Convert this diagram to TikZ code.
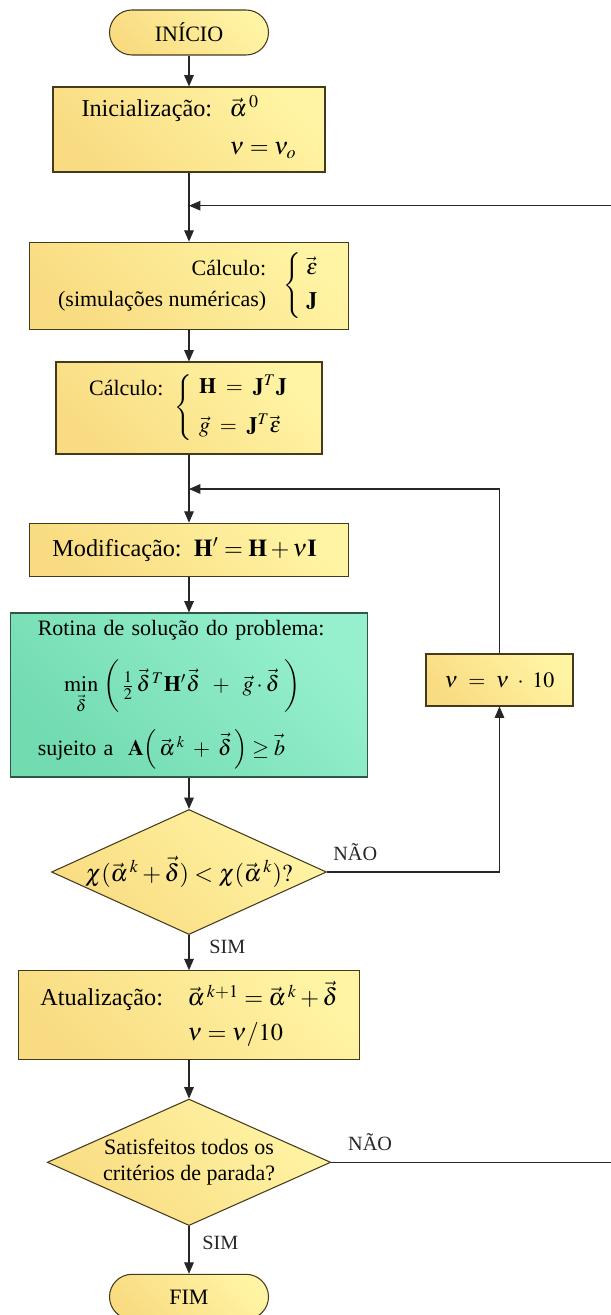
\documentclass[tikz,border=0pt]{standalone}
\usepackage{amsmath}
\usepackage{mathptmx}
\usepackage{fontspec}
\setmainfont{Liberation Serif}
\usetikzlibrary{arrows.meta}
\usetikzlibrary{shapes.geometric}

\definecolor{ylight}{RGB}{255,244,164}
\definecolor{ydark}{RGB}{249,220,130}
\definecolor{glight}{RGB}{150,240,206}
\definecolor{gdark}{RGB}{114,219,176}
\definecolor{yedge}{RGB}{70,58,28}
\definecolor{gedge}{RGB}{46,88,68}

\begin{document}
\begin{tikzpicture}[
    font=\fontsize{12.5}{15}\selectfont,
    flow/.style={line width=0.6pt, black!85, -{Triangle[length=6.5pt,width=5.5pt]}},
    yfill/.style={draw=yedge, line width=0.6pt, left color=ydark, right color=ylight, shading angle=135},
    box/.style={yfill, rectangle, inner sep=0pt},
    big/.style={font=\fontsize{13.8}{16.5}\selectfont},
    gbox/.style={draw=gedge, line width=0.6pt, left color=gdark, right color=glight, shading angle=135, rectangle},
    term/.style={yfill, rectangle, rounded corners=0.45cm, minimum width=3.18cm, minimum height=0.9cm},
    test/.style={yfill, diamond, inner sep=0pt, aspect=2.2},
    lbl/.style={font=\fontsize{11.5}{14}\selectfont}
]
    \useasboundingbox (0, 0) rectangle (12.22, -26.3);

    \node[term] (inicio) at (3.78, -0.65) {INÍCIO};
    \node[box, big, minimum width=5.44cm, minimum height=1.7cm] (init) at (3.78, -2.59)
        {\begin{tabular}{@{}r@{\hspace{10pt}}l@{}}Inicialização: & $\vec{\alpha}^{\,0}$\\[5pt] & $\nu = \nu_o$\end{tabular}};
    \node[box, minimum width=6.38cm, minimum height=1.74cm] (calc1) at (3.78, -5.714)
        {\begin{tabular}{@{}r@{}}Cálculo:\\[3pt](simulações numéricas)\end{tabular}\hspace{10pt}$\left\{\begin{array}{@{\;}l@{}}\vec{\varepsilon}\\[4pt]\mathbf{J}\end{array}\right.$};
    \node[box, minimum width=5.32cm, minimum height=1.84cm] (calc2) at (3.78, -8.16)
        {\raisebox{10.5pt}{Cálculo:}\hspace{6pt}$\left\{\begin{array}{@{\;\,}l@{}}\mathbf{H} \;=\; \mathbf{J}^T\mathbf{J}\\[7pt]\vec{g} \;=\; \mathbf{J}^T\vec{\varepsilon}\end{array}\right.$};
    \node[box, big, minimum width=6.38cm, minimum height=1.06cm] (modif) at (3.78, -10.994)
        {Modificação:\hspace{7pt}$\mathbf{H}' = \mathbf{H} + \nu\mathbf{I}$\hspace*{5pt}};
    \node[gbox, minimum height=3.28cm, inner xsep=0.55cm, inner ysep=0pt, text width=6.05cm, align=left] (rotina) at (3.78, -13.9)
        {Rotina de solução do problema:\\[10pt]
         \hspace*{15pt}$\min\limits_{\vec{\delta}}\;\biggl(\,\frac{1}{2}\,\vec{\delta}^{\,T}\mathbf{H}'\vec{\delta}\;\;+\;\;\vec{g}\cdot\vec{\delta}\;\biggr)$\\[8pt]
         sujeito a\ \ $\mathbf{A}\Bigl(\,\vec{\alpha}^{\,k}\;+\;\vec{\delta}\,\Bigr)\ge\vec{b}$};
    \node[box, minimum width=2.94cm, minimum height=1.04cm] (nu10) at (9.99, -13.6)
        {$\nu\ =\ \nu\ \cdot\ 10$};
    \node[test, big, minimum width=5.46cm, minimum height=2.41cm] (teste) at (3.78, -17.44)
        {$\chi(\vec{\alpha}^{\,k}+\vec{\delta})<\chi(\vec{\alpha}^{\,k})?$};
    \node[box, big, minimum width=6.83cm, minimum height=1.77cm] (atual) at (3.78, -20.3)
        {\begin{tabular}{@{}r@{\hspace{14pt}}l@{}}Atualização: & $\vec{\alpha}^{\,k+1} = \vec{\alpha}^{\,k} + \vec{\delta}$\\[3pt] & $\nu = \nu/10$\end{tabular}};
    \node[test, minimum width=5.67cm, minimum height=2.53cm, align=center] (parada) at (3.78, -23.246)
        {Satisfeitos todos os\\critérios de parada?};
    \node[term] (fim) at (3.78, -25.936) {FIM};

    \coordinate (j1) at (3.78, -4.114);
    \coordinate (e1) at (12.22, -4.114);
    \coordinate (j2) at (3.78, -9.78);
    \coordinate (e2) at (12.22, -23.246);

    \draw[flow] (inicio) -- (init);
    \draw[flow] (init) -- (calc1);
    \draw[flow] (e1) -- (j1);
    \draw[flow] (calc1) -- (calc2);
    \draw[flow] (calc2) -- (modif);
    \draw[flow] (nu10) |- (j2);
    \draw[flow] (modif) -- (rotina);
    \draw[flow] (rotina) -- (teste);
    \draw[flow] (teste.east) -- node[lbl, above right, pos=0, yshift=3pt] {NÃO} (teste.east -| nu10) -- (nu10);
    \draw[flow] (teste) -- node[lbl, right=8pt, pos=0.35] {SIM} (atual);
    \draw[flow] (atual) -- (parada);
    \draw[line width=0.6pt, black!85] (parada.east) -- node[lbl, above right, pos=0, xshift=6pt, yshift=3pt] {NÃO} (e2);
    \draw[flow] (parada) -- node[lbl, right=4pt, pos=0.36] {SIM} (fim);
\end{tikzpicture}
\end{document}
